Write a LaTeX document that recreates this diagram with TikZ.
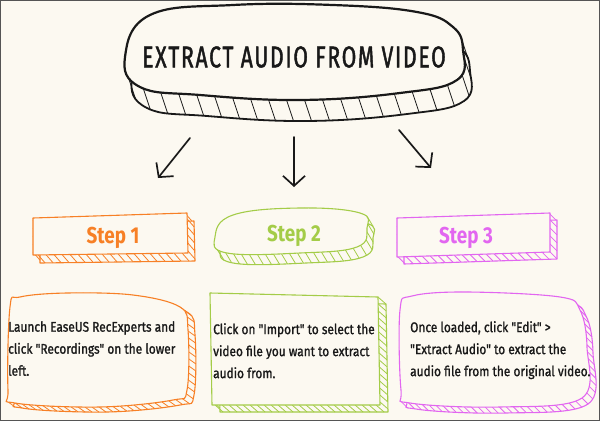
\documentclass[tikz,border=0pt]{standalone}
\usepackage{fontspec}
\usepackage{tikz}
\usetikzlibrary{arrows.meta,calc,decorations.markings,positioning}

\newfontfamily\titlefont[FakeStretch=0.7,LetterSpace=6,FakeBold=1.5]{Fira Sans}
\newfontfamily\stepfont[FakeStretch=0.82]{Fira Sans}
\newfontfamily\bodyfont[FakeStretch=0.85,FakeBold=1.2]{Fira Sans}

\definecolor{paper}{RGB}{252,249,241}
\definecolor{frame}{RGB}{85,85,85}
\definecolor{inkorange}{RGB}{247,128,38}
\definecolor{inkgreen}{RGB}{164,204,72}
\definecolor{inkpink}{RGB}{226,102,240}
\definecolor{ink}{RGB}{25,25,25}

\tikzset{
  slab/.style n args={3}{postaction={decorate,decoration={markings,
      mark=between positions 0 and 1 step #3 with {\pgftransformresetnontranslations
        \draw[#1,line width=0.8pt] (0,0) -- #2;}}}},
  sketch/.style={line width=1.1pt,line join=round},
  bodytext/.style={anchor=north west,inner sep=0pt,align=left,text=ink,
    font=\bodyfont\fontsize{14}{22}\selectfont},
  steptext/.style={inner sep=0pt,font=\stepfont\bfseries\fontsize{23}{24}\selectfont},
  bigarrow/.style={ink,line width=1.7pt,line cap=round,
    -{Straight Barb[length=10pt,width=22pt,line width=1.7pt]}},
}

\begin{document}
\begin{tikzpicture}[x=1pt,y=-1pt]
  \useasboundingbox (0,0) rectangle (600,421);
  \fill[paper] (0,0) rectangle (600,421);
  \draw[frame,line width=1.2pt] (0.6,0.6) rectangle (599.4,420.4);

  % title cloud
  \def\titleblob{plot[smooth cycle,tension=0.7] coordinates {(125,57) (150,15) (233,5) (333,5) (417,12) (453,27) (463,50) (457,80) (400,93) (300,100) (200,95) (140,87)}}
  \draw[ink,line width=1.8pt,shift={(7,21)}] \titleblob;
  \path[slab={ink,line width=1.6pt}{(7,21)}{18pt}] \titleblob;
  \draw[ink,line width=2.2pt,fill=paper] \titleblob;
  \node[text=ink,inner sep=0pt,font=\titlefont\fontsize{30}{30}\selectfont] (title) at (294,57) {EXTRACT AUDIO FROM VIDEO};

  % arrows
  \coordinate (a1s) at (190,138);
  \coordinate (a1e) at (158,178);
  \coordinate (a2s) at (294,137);
  \coordinate (a2e) at (294,187);
  \coordinate (a3s) at (399,130);
  \coordinate (a3e) at (431,168);
  \draw[bigarrow] (a1s) -- (a1e);
  \draw[bigarrow] (a2s) -- (a2e);
  \draw[bigarrow] (a3s) -- (a3e);

  % step 1
  \def\stepone{(33,218) -- (187,213) -- (188,253) -- (33,255) -- cycle}
  \draw[inkorange,sketch,shift={(7,8)}] \stepone;
  \path[slab={inkorange}{(7,8)}{8pt}] \stepone;
  \draw[inkorange,sketch,fill=paper] \stepone;
  \node[steptext,text=inkorange] (step1) at (113,238) {Step 1};

  % step 2
  \def\steptwo{plot[smooth cycle,tension=0.7] coordinates {(215,237) (233,215) (300,208) (360,213) (367,228) (357,247) (300,253) (227,253)}}
  \draw[inkgreen,sketch,shift={(6,10)}] \steptwo;
  \path[slab={inkgreen}{(6,10)}{8pt}] \steptwo;
  \draw[inkgreen,sketch,fill=paper] \steptwo;
  \node[steptext,text=inkgreen] (step2) at (294,236) {Step 2};

  % step 3
  \def\stepthree{(397,218) -- (550,213) -- (550,252) -- (397,257) -- cycle}
  \draw[inkpink,sketch,shift={(7,7)}] \stepthree;
  \path[slab={inkpink}{(7,7)}{8pt}] \stepthree;
  \draw[inkpink,sketch,fill=paper] \stepthree;
  \node[steptext,text=inkpink] (step3) at (466,238) {Step 3};

  % box 1
  \def\boxone{plot[smooth cycle,tension=0.6] coordinates {(10,307) (20,297) (67,293) (133,295) (180,307) (188,330) (187,390) (173,400) (100,407) (15,403) (8,390)}}
  \draw[inkorange,sketch,shift={(7,5)}] \boxone;
  \path[slab={inkorange}{(7,5)}{7pt}] \boxone;
  \draw[inkorange,sketch,fill=paper] \boxone;
  \node[bodytext] (text1) at (8,321) {Launch EaseUS RecExperts and\\click "Recordings" on the lower\\left.};

  % box 2
  \def\boxtwo{(210,293) -- (378,297) -- (380,405) -- (212,405) -- cycle}
  \draw[inkgreen,sketch,shift={(8,7)}] \boxtwo;
  \path[slab={inkgreen}{(8,7)}{7pt}] \boxtwo;
  \draw[inkgreen,sketch,fill=paper] \boxtwo;
  \node[bodytext] (text2) at (213,323) {Click on "Import" to select the\\video file you want to extract\\audio from.};

  % box 3
  \def\boxthree{plot[smooth cycle,tension=0.6] coordinates {(400,310) (412,296) (467,292) (560,297) (580,310) (587,347) (582,398) (500,407) (410,403) (401,390)}}
  \draw[inkpink,sketch,shift={(6,6)}] \boxthree;
  \path[slab={inkpink}{(6,6)}{7pt}] \boxthree;
  \draw[inkpink,sketch,fill=paper] \boxthree;
  \node[bodytext] (text3) at (410,321) {Once loaded, click "Edit" >\\"Extract Audio" to extract the\\audio file from the original video.};
\end{tikzpicture}
\end{document}
